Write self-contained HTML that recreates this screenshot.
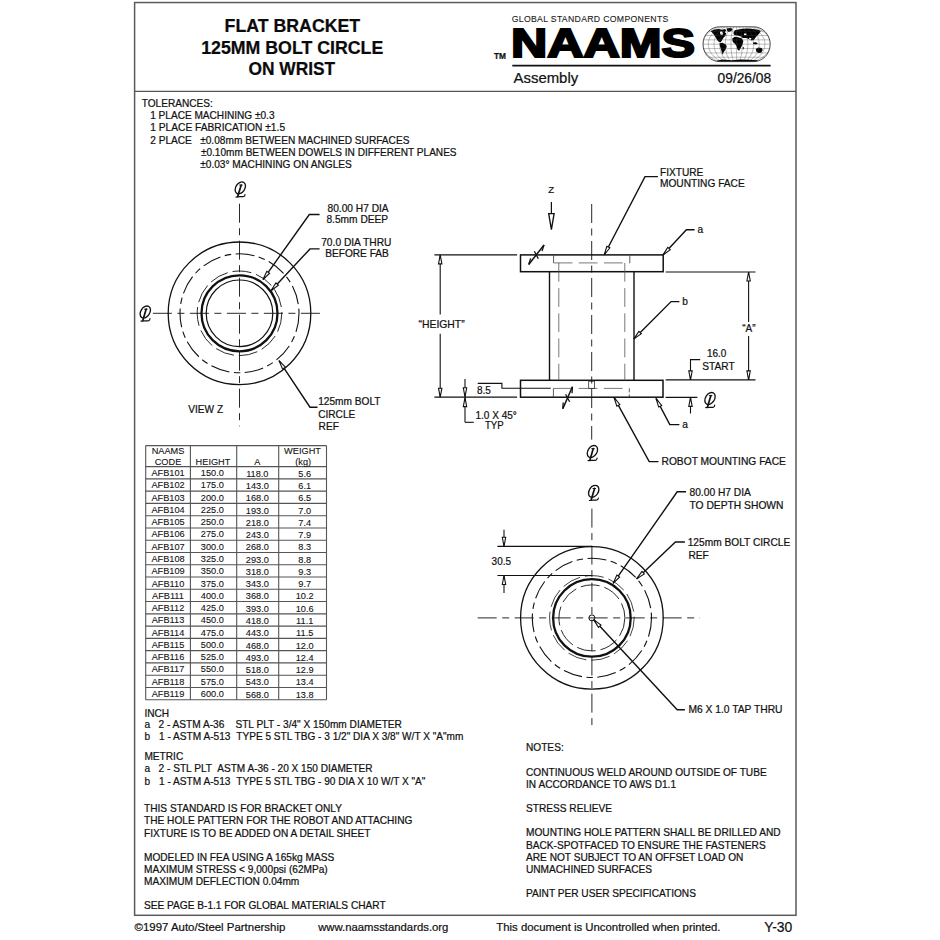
<!DOCTYPE html><html><head><meta charset="utf-8"><style>html,body{margin:0;padding:0;background:#fff;width:940px;height:940px;overflow:hidden}svg{display:block}text{font-family:"Liberation Sans",sans-serif;stroke:#111;stroke-width:0.22px}</style></head><body>
<svg width="940" height="940" viewBox="0 0 940 940">
<rect width="940" height="940" fill="#fff"/>
<rect x="134.6" y="2.55" width="661.4" height="912.75" fill="none" stroke="#5a5a5a" stroke-width="1.5"/>
<line x1="134.6" y1="91.4" x2="796.0" y2="91.4" stroke="#555" stroke-width="1.4"/>
<text x="292.4" y="32.3" font-size="17.7" text-anchor="middle" font-weight="bold" textLength="135.6" lengthAdjust="spacingAndGlyphs" fill="#0a0a0a" >FLAT BRACKET</text>
<text x="292.2" y="53.5" font-size="17.7" text-anchor="middle" font-weight="bold" textLength="182.1" lengthAdjust="spacingAndGlyphs" fill="#0a0a0a" >125MM BOLT CIRCLE</text>
<text x="291.8" y="74.7" font-size="17.7" text-anchor="middle" font-weight="bold" textLength="86.7" lengthAdjust="spacingAndGlyphs" fill="#0a0a0a" >ON WRIST</text>
<text x="511.7" y="21.9" font-size="8.7" textLength="156.6" lengthAdjust="spacing" fill="#1a1a1a" style="stroke-width:0.1px">GLOBAL STANDARD COMPONENTS</text>
<text x="510.9" y="57.2" font-size="41.2" font-weight="bold" textLength="184.2" lengthAdjust="spacingAndGlyphs" fill="#000" style="stroke-width:2.1px;stroke:#000">NAAMS</text>
<text x="493.9" y="59.0" font-size="8.4" font-weight="bold" textLength="12.0" lengthAdjust="spacingAndGlyphs" fill="#111" >TM</text>
<line x1="512.3" y1="65.6" x2="770.6" y2="65.6" stroke="#111" stroke-width="1.9"/>
<text x="513.5" y="83.2" font-size="15" textLength="64.7" lengthAdjust="spacingAndGlyphs" fill="#111" >Assembly</text>
<text x="717.6" y="82.5" font-size="14" textLength="53.5" lengthAdjust="spacingAndGlyphs" fill="#111" >09/26/08</text>
<defs><clipPath id="gc"><path d="M719.6,26.800000000000004 L753.6,26.800000000000004 A16.6,17.4 0 0 1 753.6,61.6 L719.6,61.6 A16.6,17.4 0 0 1 719.6,26.800000000000004 Z"/></clipPath></defs>
<g clip-path="url(#gc)">
<polygon points="710.82,31.30 714.44,29.49 718.51,29.04 722.12,29.76 724.84,29.04 726.19,30.13 724.84,32.21 726.19,33.56 725.29,35.82 723.48,37.63 722.12,39.89 720.77,42.15 718.69,41.70 717.15,40.07 715.98,38.08 714.71,36.09 713.08,33.56" fill="#000"/>
<polygon points="726.83,28.59 729.81,27.96 732.79,28.68 731.35,31.03 728.63,31.93 726.83,30.13" fill="#000"/>
<polygon points="719.59,43.33 722.58,42.78 725.74,44.41 726.83,46.40 725.56,49.39 723.75,52.10 722.58,54.81 721.76,52.10 720.86,48.75 719.95,46.22" fill="#000"/>
<polygon points="733.43,32.66 734.78,30.13 738.40,29.40 742.47,28.86 747.89,28.59 752.87,29.04 758.29,29.76 760.82,31.03 759.38,33.56 757.21,35.55 755.40,37.72 753.77,40.07 751.24,40.61 748.80,38.99 746.08,37.90 743.37,38.08 740.66,37.00 737.68,35.55 734.96,35.19 733.70,34.29" fill="#000"/>
<polygon points="732.25,38.54 734.78,36.82 738.22,37.18 741.56,38.35 743.37,40.98 742.47,44.41 740.84,47.85 739.12,50.74 737.50,49.39 736.59,46.22 734.96,43.69 732.79,41.88" fill="#000"/>
<polygon points="742.74,47.31 743.64,46.85 743.82,48.93 742.92,49.39" fill="#000"/>
<polygon points="755.76,49.11 758.29,47.58 761.73,48.03 762.63,50.02 761.18,52.73 758.29,53.09 756.30,51.46" fill="#000"/>
<polygon points="752.87,42.60 756.12,42.24 757.93,43.87 755.40,44.59 753.05,43.87" fill="#000"/>
<polygon points="716.70,60.87 722.12,59.60 731.17,60.24 740.21,59.42 749.25,59.78 757.39,60.24 759.20,62.50 716.70,62.50" fill="#000"/>
<polygon points="719.86,31.75 722.12,31.30 723.21,33.56 722.12,35.37 720.50,34.47" fill="#fff"/>
<polygon points="734.78,35.37 738.40,36.09 742.02,36.73 740.21,37.36 736.59,36.73" fill="#fff"/>
<polygon points="743.82,33.56 746.54,33.38 746.36,34.92 744.28,35.19" fill="#fff"/>
<polygon points="749.25,37.63 751.51,38.08 750.61,40.07 749.07,39.17" fill="#fff"/>
<line x1="703.0" y1="31.15" x2="770.2" y2="31.15" stroke="#444" stroke-width="0.35"/>
<line x1="703.0" y1="35.50" x2="770.2" y2="35.50" stroke="#444" stroke-width="0.35"/>
<line x1="703.0" y1="39.85" x2="770.2" y2="39.85" stroke="#444" stroke-width="0.35"/>
<line x1="703.0" y1="44.20" x2="770.2" y2="44.20" stroke="#444" stroke-width="0.35"/>
<line x1="703.0" y1="48.55" x2="770.2" y2="48.55" stroke="#444" stroke-width="0.35"/>
<line x1="703.0" y1="52.90" x2="770.2" y2="52.90" stroke="#444" stroke-width="0.35"/>
<line x1="703.0" y1="57.25" x2="770.2" y2="57.25" stroke="#444" stroke-width="0.35"/>
<path d="M719.60,26.800000000000004 C697.02,34.11 697.02,54.29 719.60,61.6" fill="none" stroke="#444" stroke-width="0.35"/>
<path d="M722.43,26.800000000000004 C703.62,34.11 703.62,54.29 722.43,61.6" fill="none" stroke="#444" stroke-width="0.35"/>
<path d="M725.27,26.800000000000004 C710.22,34.11 710.22,54.29 725.27,61.6" fill="none" stroke="#444" stroke-width="0.35"/>
<path d="M728.10,26.800000000000004 C716.81,34.11 716.81,54.29 728.10,61.6" fill="none" stroke="#444" stroke-width="0.35"/>
<path d="M730.93,26.800000000000004 C723.41,34.11 723.41,54.29 730.93,61.6" fill="none" stroke="#444" stroke-width="0.35"/>
<path d="M733.77,26.800000000000004 C730.00,34.11 730.00,54.29 733.77,61.6" fill="none" stroke="#444" stroke-width="0.35"/>
<path d="M736.60,26.800000000000004 C736.60,34.11 736.60,54.29 736.60,61.6" fill="none" stroke="#444" stroke-width="0.35"/>
<path d="M739.43,26.800000000000004 C743.20,34.11 743.20,54.29 739.43,61.6" fill="none" stroke="#444" stroke-width="0.35"/>
<path d="M742.27,26.800000000000004 C749.79,34.11 749.79,54.29 742.27,61.6" fill="none" stroke="#444" stroke-width="0.35"/>
<path d="M745.10,26.800000000000004 C756.39,34.11 756.39,54.29 745.10,61.6" fill="none" stroke="#444" stroke-width="0.35"/>
<path d="M747.93,26.800000000000004 C762.98,34.11 762.98,54.29 747.93,61.6" fill="none" stroke="#444" stroke-width="0.35"/>
<path d="M750.77,26.800000000000004 C769.58,34.11 769.58,54.29 750.77,61.6" fill="none" stroke="#444" stroke-width="0.35"/>
<path d="M753.60,26.800000000000004 C776.18,34.11 776.18,54.29 753.60,61.6" fill="none" stroke="#444" stroke-width="0.35"/>
</g>
<path d="M719.6,26.800000000000004 L753.6,26.800000000000004 A16.6,17.4 0 0 1 753.6,61.6 L719.6,61.6 A16.6,17.4 0 0 1 719.6,26.800000000000004 Z" fill="none" stroke="#222" stroke-width="0.8"/>
<text x="141.7" y="107.0" font-size="10.15" textLength="71.1" lengthAdjust="spacingAndGlyphs" fill="#111" >TOLERANCES:</text>
<text x="150.2" y="119.2" font-size="10.15" textLength="124.3" lengthAdjust="spacingAndGlyphs" fill="#111" >1 PLACE MACHINING ±0.3</text>
<text x="150.2" y="131.4" font-size="10.15" textLength="134.9" lengthAdjust="spacingAndGlyphs" fill="#111" >1 PLACE FABRICATION ±1.5</text>
<text x="150.2" y="143.6" font-size="10.15" fill="#111" >2 PLACE</text>
<text x="200.2" y="143.6" font-size="10.15" textLength="209.2" lengthAdjust="spacingAndGlyphs" fill="#111" >±0.08mm BETWEEN MACHINED SURFACES</text>
<text x="200.9" y="155.7" font-size="10.15" textLength="255.7" lengthAdjust="spacingAndGlyphs" fill="#111" >±0.10mm BETWEEN DOWELS IN DIFFERENT PLANES</text>
<text x="200.2" y="167.7" font-size="10.15" textLength="151.7" lengthAdjust="spacingAndGlyphs" fill="#111" >±0.03° MACHINING ON ANGLES</text>
<circle cx="239.5" cy="313.3" r="71.3" fill="none" stroke="#111" stroke-width="1.3"/>
<circle cx="239.5" cy="313.3" r="59.5" fill="none" stroke="#111" stroke-width="1.1" stroke-dasharray="19 4.5 6.5 4.5"/>
<circle cx="239.5" cy="313.3" r="42.3" fill="none" stroke="#111" stroke-width="0.9" stroke-dasharray="19 5"/>
<circle cx="239.5" cy="313.3" r="38.0" fill="none" stroke="#111" stroke-width="2.3"/>
<circle cx="239.5" cy="313.3" r="33.3" fill="none" stroke="#111" stroke-width="1.2"/>
<line x1="239.5" y1="203.7" x2="239.5" y2="426.3" stroke="#111" stroke-width="0.9" stroke-dasharray="19 5.5 7 5.5"/>
<line x1="152.9" y1="313.3" x2="325.2" y2="313.3" stroke="#111" stroke-width="0.9" stroke-dasharray="19 5.5 7 5.5"/>
<g transform="translate(240.2,189.4) scale(1.0)" fill="none" stroke="#111" stroke-linecap="round"><ellipse cx="0.1" cy="-1.5" rx="4.5" ry="6.5" transform="rotate(33 0.1 -1.5)" stroke-width="1.35"/><path d="M1.0,-4.4 L-2.4,6.9" stroke-width="1.7"/><path d="M-0.6,-4.3 L2.0,-4.3" stroke-width="1.0"/><path d="M-4.2,7.7 C-1.5,6.9 1.5,7.6 3.6,7.1 C4.4,6.8 4.7,6.0 4.8,5.2" stroke-width="1.2"/></g>
<g transform="translate(145.2,313.5) scale(1.0)" fill="none" stroke="#111" stroke-linecap="round"><ellipse cx="0.1" cy="-1.5" rx="4.5" ry="6.5" transform="rotate(33 0.1 -1.5)" stroke-width="1.35"/><path d="M1.0,-4.4 L-2.4,6.9" stroke-width="1.7"/><path d="M-0.6,-4.3 L2.0,-4.3" stroke-width="1.0"/><path d="M-4.2,7.7 C-1.5,6.9 1.5,7.6 3.6,7.1 C4.4,6.8 4.7,6.0 4.8,5.2" stroke-width="1.2"/></g>
<polyline points="263.00,279.60 309.30,214.50 319.60,214.50" fill="none" stroke="#111" stroke-width="1.4"/>
<polygon points="263.00,279.60 266.83,271.28 269.60,273.25 263.00,279.60" fill="#fff" stroke="#111" stroke-width="1.1"/>
<polyline points="271.00,290.70 310.00,248.90 319.60,248.90" fill="none" stroke="#111" stroke-width="1.4"/>
<polygon points="271.00,290.70 275.90,282.96 278.38,285.28 271.00,290.70" fill="#fff" stroke="#111" stroke-width="1.1"/>
<polyline points="279.00,360.60 310.00,407.20 317.50,407.20" fill="none" stroke="#111" stroke-width="1.4"/>
<polygon points="279.00,360.60 285.40,367.15 282.57,369.03 279.00,360.60" fill="#fff" stroke="#111" stroke-width="1.1"/>
<text x="358.1" y="212.2" font-size="10.15" text-anchor="middle" textLength="61.1" lengthAdjust="spacingAndGlyphs" fill="#111" >80.00 H7 DIA</text>
<text x="357.3" y="223.4" font-size="10.15" text-anchor="middle" textLength="61.7" lengthAdjust="spacingAndGlyphs" fill="#111" >8.5mm DEEP</text>
<text x="356.3" y="246.1" font-size="10.15" text-anchor="middle" textLength="70.2" lengthAdjust="spacingAndGlyphs" fill="#111" >70.0 DIA THRU</text>
<text x="357.0" y="257.2" font-size="10.15" text-anchor="middle" textLength="63.5" lengthAdjust="spacingAndGlyphs" fill="#111" >BEFORE FAB</text>
<text x="318.2" y="405.2" font-size="10.15" fill="#111" >125mm BOLT</text>
<text x="318.2" y="417.6" font-size="10.15" fill="#111" >CIRCLE</text>
<text x="318.6" y="429.7" font-size="10.15" fill="#111" >REF</text>
<text x="188.3" y="413.0" font-size="10.15" textLength="34.8" lengthAdjust="spacingAndGlyphs" fill="#111" >VIEW Z</text>
<g fill="none" stroke="#111" stroke-width="1.5">
<rect x="520.5" y="254.9" width="142.7" height="16.8"/>
<rect x="520.5" y="380.3" width="142.5" height="16.9"/>
</g>
<line x1="549.5" y1="271.7" x2="549.5" y2="380.3" stroke="#111" stroke-width="1.4"/>
<line x1="634.0" y1="271.7" x2="634.0" y2="380.3" stroke="#111" stroke-width="1.4"/>
<line x1="553.6" y1="255.5" x2="553.6" y2="262.9" stroke="#333" stroke-width="0.8"/>
<line x1="629.8" y1="255.5" x2="629.8" y2="262.9" stroke="#333" stroke-width="0.8"/>
<line x1="553.6" y1="262.9" x2="629.8" y2="262.9" stroke="#555" stroke-width="0.8" stroke-dasharray="18.8 6.4"/>
<line x1="558.8" y1="262.9" x2="558.8" y2="380.3" stroke="#555" stroke-width="0.8" stroke-dasharray="18.8 6.4"/>
<line x1="624.8" y1="262.9" x2="624.8" y2="380.3" stroke="#555" stroke-width="0.8" stroke-dasharray="18.8 6.4"/>
<line x1="553.4" y1="388.4" x2="553.4" y2="397.0" stroke="#333" stroke-width="0.8"/>
<line x1="629.3" y1="388.4" x2="629.3" y2="397.0" stroke="#333" stroke-width="0.8" stroke-dasharray="4 2"/>
<line x1="553.4" y1="388.4" x2="629.3" y2="388.4" stroke="#555" stroke-width="0.8" stroke-dasharray="18.8 6.4"/>
<rect x="588.7" y="381.2" width="5.9" height="7.2" fill="none" stroke="#333" stroke-width="0.8"/>
<line x1="591.7" y1="204.0" x2="591.7" y2="439.6" stroke="#111" stroke-width="0.9" stroke-dasharray="19 5.5 7 5.5"/>
<g transform="translate(592.3,453.0) scale(1.0)" fill="none" stroke="#111" stroke-linecap="round"><ellipse cx="0.1" cy="-1.5" rx="4.5" ry="6.5" transform="rotate(33 0.1 -1.5)" stroke-width="1.35"/><path d="M1.0,-4.4 L-2.4,6.9" stroke-width="1.7"/><path d="M-0.6,-4.3 L2.0,-4.3" stroke-width="1.0"/><path d="M-4.2,7.7 C-1.5,6.9 1.5,7.6 3.6,7.1 C4.4,6.8 4.7,6.0 4.8,5.2" stroke-width="1.2"/></g>
<line x1="434.4" y1="254.9" x2="517.1" y2="254.9" stroke="#111" stroke-width="1.2"/>
<line x1="434.4" y1="397.2" x2="517.1" y2="397.2" stroke="#111" stroke-width="1.2"/>
<line x1="440.2" y1="254.9" x2="440.2" y2="314.6" stroke="#111" stroke-width="1.1"/>
<line x1="440.2" y1="333.8" x2="440.2" y2="397.2" stroke="#111" stroke-width="1.1"/>
<polygon points="440.20,254.90 441.90,263.90 438.50,263.90 440.20,254.90" fill="#fff" stroke="#111" stroke-width="1.1"/>
<polygon points="440.20,397.20 438.50,388.20 441.90,388.20 440.20,397.20" fill="#fff" stroke="#111" stroke-width="1.1"/>
<text x="441.6" y="327.7" font-size="10.15" text-anchor="middle" textLength="46.1" lengthAdjust="spacingAndGlyphs" fill="#111" >“HEIGHT”</text>
<line x1="465.0" y1="378.9" x2="465.0" y2="422.3" stroke="#111" stroke-width="1.1"/>
<polyline points="465.00,422.30 473.80,422.30" fill="none" stroke="#111" stroke-width="1.1"/>
<polygon points="465.00,396.80 463.30,387.80 466.70,387.80 465.00,396.80" fill="#fff" stroke="#111" stroke-width="1.1"/>
<polygon points="465.00,397.60 466.70,406.60 463.30,406.60 465.00,397.60" fill="#fff" stroke="#111" stroke-width="1.1"/>
<polyline points="477.70,383.40 501.90,383.40 501.90,388.30 550.70,388.30" fill="none" stroke="#111" stroke-width="1.1"/>
<text x="477.0" y="393.8" font-size="10.15" textLength="13.9" lengthAdjust="spacingAndGlyphs" fill="#111" >8.5</text>
<text x="475.5" y="418.5" font-size="10.15" textLength="41.3" lengthAdjust="spacingAndGlyphs" fill="#111" >1.0 X 45°</text>
<text x="484.9" y="429.1" font-size="10.15" textLength="18.7" lengthAdjust="spacingAndGlyphs" fill="#111" >TYP</text>
<line x1="665.6" y1="272.0" x2="755.5" y2="272.0" stroke="#111" stroke-width="1.2"/>
<line x1="665.6" y1="379.9" x2="755.5" y2="379.9" stroke="#111" stroke-width="1.2"/>
<line x1="665.6" y1="397.4" x2="697.4" y2="397.4" stroke="#111" stroke-width="1.2"/>
<line x1="748.6" y1="272.0" x2="748.6" y2="322.0" stroke="#111" stroke-width="1.1"/>
<line x1="748.6" y1="336.0" x2="748.6" y2="379.9" stroke="#111" stroke-width="1.1"/>
<polygon points="748.60,272.00 750.30,281.00 746.90,281.00 748.60,272.00" fill="#fff" stroke="#111" stroke-width="1.1"/>
<polygon points="748.60,379.90 746.90,370.90 750.30,370.90 748.60,379.90" fill="#fff" stroke="#111" stroke-width="1.1"/>
<text x="748.9" y="332.3" font-size="10.15" text-anchor="middle" textLength="13.3" lengthAdjust="spacingAndGlyphs" fill="#111" >“A”</text>
<polyline points="690.50,379.90 690.50,359.60 700.20,359.60" fill="none" stroke="#111" stroke-width="1.1"/>
<polygon points="690.50,379.90 688.80,370.90 692.20,370.90 690.50,379.90" fill="#fff" stroke="#111" stroke-width="1.1"/>
<line x1="690.5" y1="397.4" x2="690.5" y2="413.5" stroke="#111" stroke-width="1.1"/>
<polygon points="690.50,397.40 692.20,406.40 688.80,406.40 690.50,397.40" fill="#fff" stroke="#111" stroke-width="1.1"/>
<text x="716.7" y="356.9" font-size="10.15" text-anchor="middle" textLength="19.4" lengthAdjust="spacingAndGlyphs" fill="#111" >16.0</text>
<text x="718.5" y="369.8" font-size="10.15" text-anchor="middle" textLength="32.3" lengthAdjust="spacingAndGlyphs" fill="#111" >START</text>
<g transform="translate(709.9,400.0) scale(1.0)" fill="none" stroke="#111" stroke-linecap="round"><ellipse cx="0.1" cy="-1.5" rx="4.5" ry="6.5" transform="rotate(33 0.1 -1.5)" stroke-width="1.35"/><path d="M1.0,-4.4 L-2.4,6.9" stroke-width="1.7"/><path d="M-0.6,-4.3 L2.0,-4.3" stroke-width="1.0"/><path d="M-4.2,7.7 C-1.5,6.9 1.5,7.6 3.6,7.1 C4.4,6.8 4.7,6.0 4.8,5.2" stroke-width="1.2"/></g>
<polyline points="633.80,338.90 671.10,301.60 679.40,301.60" fill="none" stroke="#111" stroke-width="1.4"/>
<polygon points="633.80,338.90 638.96,331.33 641.37,333.74 633.80,338.90" fill="#fff" stroke="#111" stroke-width="1.1"/>
<text x="682.2" y="305.1" font-size="10.15" fill="#111" >b</text>
<polyline points="662.90,255.10 686.40,229.70 694.60,229.70" fill="none" stroke="#111" stroke-width="1.4"/>
<polygon points="662.90,255.10 667.76,247.34 670.26,249.65 662.90,255.10" fill="#fff" stroke="#111" stroke-width="1.1"/>
<text x="697.4" y="233.2" font-size="10.15" fill="#111" >a</text>
<polyline points="656.00,398.30 669.80,424.60 679.40,424.60" fill="none" stroke="#111" stroke-width="1.4"/>
<polygon points="656.00,398.30 661.69,405.48 658.68,407.06 656.00,398.30" fill="#fff" stroke="#111" stroke-width="1.1"/>
<text x="682.2" y="428.1" font-size="10.15" fill="#111" >a</text>
<polyline points="604.20,255.00 645.00,176.60 657.90,176.60" fill="none" stroke="#111" stroke-width="1.4"/>
<polygon points="604.20,255.00 606.85,246.23 609.86,247.80 604.20,255.00" fill="#fff" stroke="#111" stroke-width="1.1"/>
<text x="660.0" y="175.9" font-size="10.15" fill="#111" >FIXTURE</text>
<text x="660.0" y="186.8" font-size="10.15" textLength="84.7" lengthAdjust="spacingAndGlyphs" fill="#111" >MOUNTING FACE</text>
<polyline points="614.00,397.40 649.20,461.60 658.50,461.60" fill="none" stroke="#111" stroke-width="1.4"/>
<polygon points="614.00,397.40 619.82,404.47 616.84,406.11 614.00,397.40" fill="#fff" stroke="#111" stroke-width="1.1"/>
<text x="661.5" y="465.4" font-size="10.15" textLength="124.4" lengthAdjust="spacingAndGlyphs" fill="#111" >ROBOT MOUNTING FACE</text>
<text x="551.1" y="192.7" font-size="9.6" text-anchor="middle" fill="#111" >Z</text>
<line x1="551.4" y1="202.0" x2="551.4" y2="214" stroke="#111" stroke-width="1.2"/>
<polygon points="551.4,229.6 548.7,213.6 554.1,213.6" fill="#fff" stroke="#111" stroke-width="1.35"/>
<line x1="528.7" y1="264.5" x2="544.0" y2="245.0" stroke="#111" stroke-width="1.5"/>
<polyline points="544.00,245.00 542.03,251.08" fill="none" stroke="#111" stroke-width="1.3"/>
<polyline points="528.70,264.50 530.67,258.42" fill="none" stroke="#111" stroke-width="1.3"/>
<line x1="534.35" y1="251.25" x2="538.35" y2="258.75" stroke="#111" stroke-width="1.3"/>
<line x1="562.8" y1="408.8" x2="572.4" y2="386.8" stroke="#111" stroke-width="1.5"/>
<polyline points="572.40,386.80 572.02,393.18" fill="none" stroke="#111" stroke-width="1.3"/>
<polyline points="562.80,408.80 563.18,402.42" fill="none" stroke="#111" stroke-width="1.3"/>
<line x1="565.5999999999999" y1="394.3" x2="569.5999999999999" y2="401.8" stroke="#111" stroke-width="1.3"/>
<circle cx="591.9" cy="617.9" r="71.3" fill="none" stroke="#111" stroke-width="1.3"/>
<circle cx="591.9" cy="617.9" r="59.6" fill="none" stroke="#111" stroke-width="1.1" stroke-dasharray="19 4.5 6.5 4.5"/>
<circle cx="591.9" cy="617.9" r="42.3" fill="none" stroke="#111" stroke-width="0.8" stroke-dasharray="19 5"/>
<circle cx="591.9" cy="617.9" r="38.8" fill="none" stroke="#111" stroke-width="2.3"/>
<circle cx="591.9" cy="617.9" r="33.0" fill="none" stroke="#111" stroke-width="0.9" stroke-dasharray="19 5"/>
<circle cx="591.9" cy="617.9" r="3.0" fill="none" stroke="#111" stroke-width="1.0"/>
<line x1="591.9" y1="508.6" x2="591.9" y2="729.8" stroke="#111" stroke-width="0.9" stroke-dasharray="19 5.5 7 5.5"/>
<line x1="477.7" y1="617.9" x2="700.0" y2="617.9" stroke="#111" stroke-width="0.9" stroke-dasharray="19 5.5 7 5.5"/>
<g transform="translate(593.6,492.8) scale(1.0)" fill="none" stroke="#111" stroke-linecap="round"><ellipse cx="0.1" cy="-1.5" rx="4.5" ry="6.5" transform="rotate(33 0.1 -1.5)" stroke-width="1.35"/><path d="M1.0,-4.4 L-2.4,6.9" stroke-width="1.7"/><path d="M-0.6,-4.3 L2.0,-4.3" stroke-width="1.0"/><path d="M-4.2,7.7 C-1.5,6.9 1.5,7.6 3.6,7.1 C4.4,6.8 4.7,6.0 4.8,5.2" stroke-width="1.2"/></g>
<line x1="497.4" y1="546.3" x2="591.8" y2="546.3" stroke="#111" stroke-width="1.2"/>
<line x1="497.4" y1="575.5" x2="591.8" y2="575.5" stroke="#111" stroke-width="1.2"/>
<line x1="504.0" y1="529.7" x2="504.0" y2="546.3" stroke="#111" stroke-width="1.1"/>
<polygon points="504.00,546.30 502.30,537.30 505.70,537.30 504.00,546.30" fill="#fff" stroke="#111" stroke-width="1.1"/>
<line x1="504.0" y1="575.5" x2="504.0" y2="592.9" stroke="#111" stroke-width="1.1"/>
<polygon points="504.00,575.50 505.70,584.50 502.30,584.50 504.00,575.50" fill="#fff" stroke="#111" stroke-width="1.1"/>
<text x="491.6" y="564.6" font-size="10.15" textLength="19.4" lengthAdjust="spacingAndGlyphs" fill="#111" >30.5</text>
<polyline points="613.10,583.40 677.20,491.80 686.00,491.80" fill="none" stroke="#111" stroke-width="1.4"/>
<polygon points="613.10,583.40 616.87,575.05 619.65,577.00 613.10,583.40" fill="#fff" stroke="#111" stroke-width="1.1"/>
<text x="689.5" y="496.3" font-size="10.15" textLength="61.4" lengthAdjust="spacingAndGlyphs" fill="#111" >80.00 H7 DIA</text>
<text x="689.5" y="508.6" font-size="10.15" textLength="94.0" lengthAdjust="spacingAndGlyphs" fill="#111" >TO DEPTH SHOWN</text>
<polyline points="636.60,578.90 675.40,542.00 684.90,542.00" fill="none" stroke="#111" stroke-width="1.4"/>
<polygon points="636.60,578.90 641.95,571.47 644.29,573.93 636.60,578.90" fill="#fff" stroke="#111" stroke-width="1.1"/>
<text x="687.7" y="546.2" font-size="10.15" textLength="102.5" lengthAdjust="spacingAndGlyphs" fill="#111" >125mm BOLT CIRCLE</text>
<text x="688.4" y="558.5" font-size="10.15" textLength="20.4" lengthAdjust="spacingAndGlyphs" fill="#111" >REF</text>
<polyline points="593.60,619.60 677.20,709.80 684.90,709.80" fill="none" stroke="#111" stroke-width="1.4"/>
<polygon points="593.60,619.60 600.96,625.05 598.47,627.36 593.60,619.60" fill="#fff" stroke="#111" stroke-width="1.1"/>
<text x="688.4" y="713.3" font-size="10.15" textLength="94.1" lengthAdjust="spacingAndGlyphs" fill="#111" >M6 X 1.0 TAP THRU</text>
<g stroke="#555" stroke-width="1.1">
<line x1="145.7" y1="445.6" x2="145.7" y2="699.73"/>
<line x1="190.4" y1="445.6" x2="190.4" y2="699.73"/>
<line x1="236.7" y1="445.6" x2="236.7" y2="699.73"/>
<line x1="278.7" y1="445.6" x2="278.7" y2="699.73"/>
<line x1="326.5" y1="445.6" x2="326.5" y2="699.73"/>
<line x1="145.7" y1="445.60" x2="326.5" y2="445.60"/>
<line x1="145.7" y1="466.60" x2="326.5" y2="466.60"/>
<line x1="145.7" y1="478.87" x2="326.5" y2="478.87"/>
<line x1="145.7" y1="491.14" x2="326.5" y2="491.14"/>
<line x1="145.7" y1="503.41" x2="326.5" y2="503.41"/>
<line x1="145.7" y1="515.68" x2="326.5" y2="515.68"/>
<line x1="145.7" y1="527.95" x2="326.5" y2="527.95"/>
<line x1="145.7" y1="540.22" x2="326.5" y2="540.22"/>
<line x1="145.7" y1="552.49" x2="326.5" y2="552.49"/>
<line x1="145.7" y1="564.76" x2="326.5" y2="564.76"/>
<line x1="145.7" y1="577.03" x2="326.5" y2="577.03"/>
<line x1="145.7" y1="589.30" x2="326.5" y2="589.30"/>
<line x1="145.7" y1="601.57" x2="326.5" y2="601.57"/>
<line x1="145.7" y1="613.84" x2="326.5" y2="613.84"/>
<line x1="145.7" y1="626.11" x2="326.5" y2="626.11"/>
<line x1="145.7" y1="638.38" x2="326.5" y2="638.38"/>
<line x1="145.7" y1="650.65" x2="326.5" y2="650.65"/>
<line x1="145.7" y1="662.92" x2="326.5" y2="662.92"/>
<line x1="145.7" y1="675.19" x2="326.5" y2="675.19"/>
<line x1="145.7" y1="687.46" x2="326.5" y2="687.46"/>
<line x1="145.7" y1="699.73" x2="326.5" y2="699.73"/>
</g>
<text x="168.0" y="453.90" font-size="9.3" text-anchor="middle" textLength="32.72" lengthAdjust="spacingAndGlyphs" fill="#111" style="stroke-width:0.1px">NAAMS</text>
<text x="168.0" y="464.60" font-size="9.3" text-anchor="middle" textLength="26.58" lengthAdjust="spacingAndGlyphs" fill="#111" style="stroke-width:0.1px">CODE</text>
<text x="213.0" y="464.60" font-size="9.3" text-anchor="middle" textLength="34.76" lengthAdjust="spacingAndGlyphs" fill="#111" style="stroke-width:0.1px">HEIGHT</text>
<text x="257.3" y="464.60" font-size="9.3" text-anchor="middle" textLength="6.14" lengthAdjust="spacingAndGlyphs" fill="#111" style="stroke-width:0.1px">A</text>
<text x="302.5" y="453.90" font-size="9.3" text-anchor="middle" textLength="36.8" lengthAdjust="spacingAndGlyphs" fill="#111" style="stroke-width:0.1px">WEIGHT</text>
<text x="303.2" y="464.60" font-size="9.3" text-anchor="middle" textLength="15.84" lengthAdjust="spacingAndGlyphs" fill="#111" style="stroke-width:0.1px">(kg)</text>
<text x="168.0" y="476.13" font-size="9.3" text-anchor="middle" textLength="33.24" lengthAdjust="spacingAndGlyphs" fill="#111" style="stroke-width:0.1px">AFB101</text>
<text x="212.3" y="476.13" font-size="9.3" text-anchor="middle" textLength="23.02" lengthAdjust="spacingAndGlyphs" fill="#111" style="stroke-width:0.1px">150.0</text>
<text x="257.3" y="476.74" font-size="9.3" text-anchor="middle" textLength="22.34" lengthAdjust="spacingAndGlyphs" fill="#111" style="stroke-width:0.1px">118.0</text>
<text x="304.7" y="476.74" font-size="9.3" text-anchor="middle" textLength="12.79" lengthAdjust="spacingAndGlyphs" fill="#111" style="stroke-width:0.1px">5.6</text>
<text x="168.0" y="488.40" font-size="9.3" text-anchor="middle" textLength="33.24" lengthAdjust="spacingAndGlyphs" fill="#111" style="stroke-width:0.1px">AFB102</text>
<text x="212.3" y="488.40" font-size="9.3" text-anchor="middle" textLength="23.02" lengthAdjust="spacingAndGlyphs" fill="#111" style="stroke-width:0.1px">175.0</text>
<text x="257.3" y="489.00" font-size="9.3" text-anchor="middle" textLength="23.02" lengthAdjust="spacingAndGlyphs" fill="#111" style="stroke-width:0.1px">143.0</text>
<text x="304.7" y="489.00" font-size="9.3" text-anchor="middle" textLength="12.79" lengthAdjust="spacingAndGlyphs" fill="#111" style="stroke-width:0.1px">6.1</text>
<text x="168.0" y="500.68" font-size="9.3" text-anchor="middle" textLength="33.24" lengthAdjust="spacingAndGlyphs" fill="#111" style="stroke-width:0.1px">AFB103</text>
<text x="212.3" y="500.68" font-size="9.3" text-anchor="middle" textLength="23.02" lengthAdjust="spacingAndGlyphs" fill="#111" style="stroke-width:0.1px">200.0</text>
<text x="257.3" y="501.28" font-size="9.3" text-anchor="middle" textLength="23.02" lengthAdjust="spacingAndGlyphs" fill="#111" style="stroke-width:0.1px">168.0</text>
<text x="304.7" y="501.28" font-size="9.3" text-anchor="middle" textLength="12.79" lengthAdjust="spacingAndGlyphs" fill="#111" style="stroke-width:0.1px">6.5</text>
<text x="168.0" y="512.95" font-size="9.3" text-anchor="middle" textLength="33.24" lengthAdjust="spacingAndGlyphs" fill="#111" style="stroke-width:0.1px">AFB104</text>
<text x="212.3" y="512.95" font-size="9.3" text-anchor="middle" textLength="23.02" lengthAdjust="spacingAndGlyphs" fill="#111" style="stroke-width:0.1px">225.0</text>
<text x="257.3" y="513.55" font-size="9.3" text-anchor="middle" textLength="23.02" lengthAdjust="spacingAndGlyphs" fill="#111" style="stroke-width:0.1px">193.0</text>
<text x="304.7" y="513.55" font-size="9.3" text-anchor="middle" textLength="12.79" lengthAdjust="spacingAndGlyphs" fill="#111" style="stroke-width:0.1px">7.0</text>
<text x="168.0" y="525.22" font-size="9.3" text-anchor="middle" textLength="33.24" lengthAdjust="spacingAndGlyphs" fill="#111" style="stroke-width:0.1px">AFB105</text>
<text x="212.3" y="525.22" font-size="9.3" text-anchor="middle" textLength="23.02" lengthAdjust="spacingAndGlyphs" fill="#111" style="stroke-width:0.1px">250.0</text>
<text x="257.3" y="525.82" font-size="9.3" text-anchor="middle" textLength="23.02" lengthAdjust="spacingAndGlyphs" fill="#111" style="stroke-width:0.1px">218.0</text>
<text x="304.7" y="525.82" font-size="9.3" text-anchor="middle" textLength="12.79" lengthAdjust="spacingAndGlyphs" fill="#111" style="stroke-width:0.1px">7.4</text>
<text x="168.0" y="537.49" font-size="9.3" text-anchor="middle" textLength="33.24" lengthAdjust="spacingAndGlyphs" fill="#111" style="stroke-width:0.1px">AFB106</text>
<text x="212.3" y="537.49" font-size="9.3" text-anchor="middle" textLength="23.02" lengthAdjust="spacingAndGlyphs" fill="#111" style="stroke-width:0.1px">275.0</text>
<text x="257.3" y="538.09" font-size="9.3" text-anchor="middle" textLength="23.02" lengthAdjust="spacingAndGlyphs" fill="#111" style="stroke-width:0.1px">243.0</text>
<text x="304.7" y="538.09" font-size="9.3" text-anchor="middle" textLength="12.79" lengthAdjust="spacingAndGlyphs" fill="#111" style="stroke-width:0.1px">7.9</text>
<text x="168.0" y="549.75" font-size="9.3" text-anchor="middle" textLength="33.24" lengthAdjust="spacingAndGlyphs" fill="#111" style="stroke-width:0.1px">AFB107</text>
<text x="212.3" y="549.75" font-size="9.3" text-anchor="middle" textLength="23.02" lengthAdjust="spacingAndGlyphs" fill="#111" style="stroke-width:0.1px">300.0</text>
<text x="257.3" y="550.36" font-size="9.3" text-anchor="middle" textLength="23.02" lengthAdjust="spacingAndGlyphs" fill="#111" style="stroke-width:0.1px">268.0</text>
<text x="304.7" y="550.36" font-size="9.3" text-anchor="middle" textLength="12.79" lengthAdjust="spacingAndGlyphs" fill="#111" style="stroke-width:0.1px">8.3</text>
<text x="168.0" y="562.02" font-size="9.3" text-anchor="middle" textLength="33.24" lengthAdjust="spacingAndGlyphs" fill="#111" style="stroke-width:0.1px">AFB108</text>
<text x="212.3" y="562.02" font-size="9.3" text-anchor="middle" textLength="23.02" lengthAdjust="spacingAndGlyphs" fill="#111" style="stroke-width:0.1px">325.0</text>
<text x="257.3" y="562.62" font-size="9.3" text-anchor="middle" textLength="23.02" lengthAdjust="spacingAndGlyphs" fill="#111" style="stroke-width:0.1px">293.0</text>
<text x="304.7" y="562.62" font-size="9.3" text-anchor="middle" textLength="12.79" lengthAdjust="spacingAndGlyphs" fill="#111" style="stroke-width:0.1px">8.8</text>
<text x="168.0" y="574.29" font-size="9.3" text-anchor="middle" textLength="33.24" lengthAdjust="spacingAndGlyphs" fill="#111" style="stroke-width:0.1px">AFB109</text>
<text x="212.3" y="574.29" font-size="9.3" text-anchor="middle" textLength="23.02" lengthAdjust="spacingAndGlyphs" fill="#111" style="stroke-width:0.1px">350.0</text>
<text x="257.3" y="574.89" font-size="9.3" text-anchor="middle" textLength="23.02" lengthAdjust="spacingAndGlyphs" fill="#111" style="stroke-width:0.1px">318.0</text>
<text x="304.7" y="574.89" font-size="9.3" text-anchor="middle" textLength="12.79" lengthAdjust="spacingAndGlyphs" fill="#111" style="stroke-width:0.1px">9.3</text>
<text x="168.0" y="586.56" font-size="9.3" text-anchor="middle" textLength="32.56" lengthAdjust="spacingAndGlyphs" fill="#111" style="stroke-width:0.1px">AFB110</text>
<text x="212.3" y="586.56" font-size="9.3" text-anchor="middle" textLength="23.02" lengthAdjust="spacingAndGlyphs" fill="#111" style="stroke-width:0.1px">375.0</text>
<text x="257.3" y="587.16" font-size="9.3" text-anchor="middle" textLength="23.02" lengthAdjust="spacingAndGlyphs" fill="#111" style="stroke-width:0.1px">343.0</text>
<text x="304.7" y="587.16" font-size="9.3" text-anchor="middle" textLength="12.79" lengthAdjust="spacingAndGlyphs" fill="#111" style="stroke-width:0.1px">9.7</text>
<text x="168.0" y="598.83" font-size="9.3" text-anchor="middle" textLength="31.88" lengthAdjust="spacingAndGlyphs" fill="#111" style="stroke-width:0.1px">AFB111</text>
<text x="212.3" y="598.83" font-size="9.3" text-anchor="middle" textLength="23.02" lengthAdjust="spacingAndGlyphs" fill="#111" style="stroke-width:0.1px">400.0</text>
<text x="257.3" y="599.43" font-size="9.3" text-anchor="middle" textLength="23.02" lengthAdjust="spacingAndGlyphs" fill="#111" style="stroke-width:0.1px">368.0</text>
<text x="304.7" y="599.43" font-size="9.3" text-anchor="middle" textLength="17.9" lengthAdjust="spacingAndGlyphs" fill="#111" style="stroke-width:0.1px">10.2</text>
<text x="168.0" y="611.11" font-size="9.3" text-anchor="middle" textLength="32.56" lengthAdjust="spacingAndGlyphs" fill="#111" style="stroke-width:0.1px">AFB112</text>
<text x="212.3" y="611.11" font-size="9.3" text-anchor="middle" textLength="23.02" lengthAdjust="spacingAndGlyphs" fill="#111" style="stroke-width:0.1px">425.0</text>
<text x="257.3" y="611.71" font-size="9.3" text-anchor="middle" textLength="23.02" lengthAdjust="spacingAndGlyphs" fill="#111" style="stroke-width:0.1px">393.0</text>
<text x="304.7" y="611.71" font-size="9.3" text-anchor="middle" textLength="17.9" lengthAdjust="spacingAndGlyphs" fill="#111" style="stroke-width:0.1px">10.6</text>
<text x="168.0" y="623.38" font-size="9.3" text-anchor="middle" textLength="32.56" lengthAdjust="spacingAndGlyphs" fill="#111" style="stroke-width:0.1px">AFB113</text>
<text x="212.3" y="623.38" font-size="9.3" text-anchor="middle" textLength="23.02" lengthAdjust="spacingAndGlyphs" fill="#111" style="stroke-width:0.1px">450.0</text>
<text x="257.3" y="623.98" font-size="9.3" text-anchor="middle" textLength="23.02" lengthAdjust="spacingAndGlyphs" fill="#111" style="stroke-width:0.1px">418.0</text>
<text x="304.7" y="623.98" font-size="9.3" text-anchor="middle" textLength="17.22" lengthAdjust="spacingAndGlyphs" fill="#111" style="stroke-width:0.1px">11.1</text>
<text x="168.0" y="635.64" font-size="9.3" text-anchor="middle" textLength="32.56" lengthAdjust="spacingAndGlyphs" fill="#111" style="stroke-width:0.1px">AFB114</text>
<text x="212.3" y="635.64" font-size="9.3" text-anchor="middle" textLength="23.02" lengthAdjust="spacingAndGlyphs" fill="#111" style="stroke-width:0.1px">475.0</text>
<text x="257.3" y="636.25" font-size="9.3" text-anchor="middle" textLength="23.02" lengthAdjust="spacingAndGlyphs" fill="#111" style="stroke-width:0.1px">443.0</text>
<text x="304.7" y="636.25" font-size="9.3" text-anchor="middle" textLength="17.22" lengthAdjust="spacingAndGlyphs" fill="#111" style="stroke-width:0.1px">11.5</text>
<text x="168.0" y="647.91" font-size="9.3" text-anchor="middle" textLength="32.56" lengthAdjust="spacingAndGlyphs" fill="#111" style="stroke-width:0.1px">AFB115</text>
<text x="212.3" y="647.91" font-size="9.3" text-anchor="middle" textLength="23.02" lengthAdjust="spacingAndGlyphs" fill="#111" style="stroke-width:0.1px">500.0</text>
<text x="257.3" y="648.51" font-size="9.3" text-anchor="middle" textLength="23.02" lengthAdjust="spacingAndGlyphs" fill="#111" style="stroke-width:0.1px">468.0</text>
<text x="304.7" y="648.51" font-size="9.3" text-anchor="middle" textLength="17.9" lengthAdjust="spacingAndGlyphs" fill="#111" style="stroke-width:0.1px">12.0</text>
<text x="168.0" y="660.19" font-size="9.3" text-anchor="middle" textLength="32.56" lengthAdjust="spacingAndGlyphs" fill="#111" style="stroke-width:0.1px">AFB116</text>
<text x="212.3" y="660.19" font-size="9.3" text-anchor="middle" textLength="23.02" lengthAdjust="spacingAndGlyphs" fill="#111" style="stroke-width:0.1px">525.0</text>
<text x="257.3" y="660.79" font-size="9.3" text-anchor="middle" textLength="23.02" lengthAdjust="spacingAndGlyphs" fill="#111" style="stroke-width:0.1px">493.0</text>
<text x="304.7" y="660.79" font-size="9.3" text-anchor="middle" textLength="17.9" lengthAdjust="spacingAndGlyphs" fill="#111" style="stroke-width:0.1px">12.4</text>
<text x="168.0" y="672.46" font-size="9.3" text-anchor="middle" textLength="32.56" lengthAdjust="spacingAndGlyphs" fill="#111" style="stroke-width:0.1px">AFB117</text>
<text x="212.3" y="672.46" font-size="9.3" text-anchor="middle" textLength="23.02" lengthAdjust="spacingAndGlyphs" fill="#111" style="stroke-width:0.1px">550.0</text>
<text x="257.3" y="673.06" font-size="9.3" text-anchor="middle" textLength="23.02" lengthAdjust="spacingAndGlyphs" fill="#111" style="stroke-width:0.1px">518.0</text>
<text x="304.7" y="673.06" font-size="9.3" text-anchor="middle" textLength="17.9" lengthAdjust="spacingAndGlyphs" fill="#111" style="stroke-width:0.1px">12.9</text>
<text x="168.0" y="684.73" font-size="9.3" text-anchor="middle" textLength="32.56" lengthAdjust="spacingAndGlyphs" fill="#111" style="stroke-width:0.1px">AFB118</text>
<text x="212.3" y="684.73" font-size="9.3" text-anchor="middle" textLength="23.02" lengthAdjust="spacingAndGlyphs" fill="#111" style="stroke-width:0.1px">575.0</text>
<text x="257.3" y="685.33" font-size="9.3" text-anchor="middle" textLength="23.02" lengthAdjust="spacingAndGlyphs" fill="#111" style="stroke-width:0.1px">543.0</text>
<text x="304.7" y="685.33" font-size="9.3" text-anchor="middle" textLength="17.9" lengthAdjust="spacingAndGlyphs" fill="#111" style="stroke-width:0.1px">13.4</text>
<text x="168.0" y="697.00" font-size="9.3" text-anchor="middle" textLength="32.56" lengthAdjust="spacingAndGlyphs" fill="#111" style="stroke-width:0.1px">AFB119</text>
<text x="212.3" y="697.00" font-size="9.3" text-anchor="middle" textLength="23.02" lengthAdjust="spacingAndGlyphs" fill="#111" style="stroke-width:0.1px">600.0</text>
<text x="257.3" y="697.60" font-size="9.3" text-anchor="middle" textLength="23.02" lengthAdjust="spacingAndGlyphs" fill="#111" style="stroke-width:0.1px">568.0</text>
<text x="304.7" y="697.60" font-size="9.3" text-anchor="middle" textLength="17.9" lengthAdjust="spacingAndGlyphs" fill="#111" style="stroke-width:0.1px">13.8</text>
<text x="144.4" y="716.8" font-size="10.15" fill="#111" >INCH</text>
<text x="144.4" y="727.9" font-size="10.15" fill="#111" >a</text>
<text x="158.5" y="727.9" font-size="10.15" fill="#111" >2 - ASTM A-36</text>
<text x="235.4" y="727.9" font-size="10.15" textLength="166.5" lengthAdjust="spacingAndGlyphs" fill="#111" >STL PLT - 3/4" X 150mm DIAMETER</text>
<text x="144.4" y="740.2" font-size="10.15" fill="#111" >b</text>
<text x="159.0" y="740.2" font-size="10.15" fill="#111" >1 - ASTM A-513</text>
<text x="236.3" y="740.2" font-size="10.15" textLength="227.1" lengthAdjust="spacingAndGlyphs" fill="#111" >TYPE 5 STL TBG - 3 1/2" DIA X 3/8" W/T X "A"mm</text>
<text x="144.4" y="759.5" font-size="10.15" fill="#111" >METRIC</text>
<text x="144.4" y="772.2" font-size="10.15" fill="#111" >a</text>
<text x="158.5" y="772.2" font-size="10.15" fill="#111" >2 - STL PLT</text>
<text x="217.3" y="772.2" font-size="10.15" textLength="155.3" lengthAdjust="spacingAndGlyphs" fill="#111" >ASTM A-36 - 20 X 150 DIAMETER</text>
<text x="144.4" y="784.9" font-size="10.15" fill="#111" >b</text>
<text x="159.0" y="784.9" font-size="10.15" fill="#111" >1 - ASTM A-513</text>
<text x="236.3" y="784.9" font-size="10.15" textLength="189.1" lengthAdjust="spacingAndGlyphs" fill="#111" >TYPE 5 STL TBG - 90 DIA X 10 W/T X "A"</text>
<text x="144.0" y="812.3" font-size="10.15" textLength="197.9" lengthAdjust="spacingAndGlyphs" fill="#111" >THIS STANDARD IS FOR BRACKET ONLY</text>
<text x="144.0" y="824.2" font-size="10.15" textLength="268.4" lengthAdjust="spacingAndGlyphs" fill="#111" >THE HOLE PATTERN FOR THE ROBOT AND ATTACHING</text>
<text x="144.0" y="836.9" font-size="10.15" fill="#111" >FIXTURE IS TO BE ADDED ON A DETAIL SHEET</text>
<text x="144.0" y="861.1" font-size="10.15" fill="#111" >MODELED IN FEA USING A 165kg MASS</text>
<text x="144.0" y="873.1" font-size="10.15" fill="#111" >MAXIMUM STRESS &lt; 9,000psi (62MPa)</text>
<text x="144.0" y="885.0" font-size="10.15" fill="#111" >MAXIMUM DEFLECTION 0.04mm</text>
<text x="144.0" y="908.5" font-size="10.15" textLength="241.6" lengthAdjust="spacingAndGlyphs" fill="#111" >SEE PAGE B-1.1 FOR GLOBAL MATERIALS CHART</text>
<text x="526.0" y="751.4" font-size="10.15" fill="#111" >NOTES:</text>
<text x="526.0" y="775.8" font-size="10.15" textLength="240.7" lengthAdjust="spacingAndGlyphs" fill="#111" >CONTINUOUS WELD AROUND OUTSIDE OF TUBE</text>
<text x="526.0" y="788.1" font-size="10.15" fill="#111" >IN ACCORDANCE TO AWS D1.1</text>
<text x="526.0" y="812.2" font-size="10.15" fill="#111" >STRESS RELIEVE</text>
<text x="526.0" y="836.2" font-size="10.15" textLength="254.6" lengthAdjust="spacingAndGlyphs" fill="#111" >MOUNTING HOLE PATTERN SHALL BE DRILLED AND</text>
<text x="526.0" y="848.6" font-size="10.15" fill="#111" >BACK-SPOTFACED TO ENSURE THE FASTENERS</text>
<text x="526.0" y="860.6" font-size="10.15" fill="#111" >ARE NOT SUBJECT TO AN OFFSET LOAD ON</text>
<text x="526.0" y="873.0" font-size="10.15" fill="#111" >UNMACHINED SURFACES</text>
<text x="526.0" y="897.0" font-size="10.15" fill="#111" >PAINT PER USER SPECIFICATIONS</text>
<text x="134.5" y="930.6" font-size="11.4" textLength="150.8" lengthAdjust="spacingAndGlyphs" fill="#111" >©1997 Auto/Steel Partnership</text>
<text x="318.2" y="930.6" font-size="11.4" textLength="130.2" lengthAdjust="spacingAndGlyphs" fill="#111" >www.naamsstandards.org</text>
<text x="496.3" y="930.6" font-size="11.4" textLength="224.2" lengthAdjust="spacingAndGlyphs" fill="#111" >This document is Uncontrolled when printed.</text>
<text x="764.2" y="931.8" font-size="15" textLength="28.1" lengthAdjust="spacingAndGlyphs" fill="#111" >Y-30</text>
</svg></body></html>
